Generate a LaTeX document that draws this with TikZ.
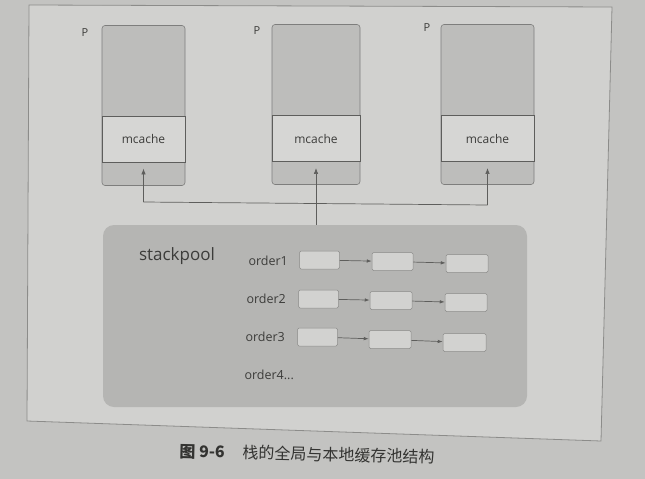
\documentclass[tikz,border=0pt]{standalone}
\usepackage{fontspec}
\setmainfont{Open Sans}
\newfontfamily\cjk{Noto Sans CJK SC}
\usetikzlibrary{arrows.meta}
\definecolor{paper}{HTML}{C3C3C1}
\definecolor{inner}{HTML}{D1D1CF}
\definecolor{frameline}{HTML}{8C8C8A}
\definecolor{boxline}{HTML}{5E5E5C}
\definecolor{pfill}{HTML}{BDBDBB}
\definecolor{mfill}{HTML}{D6D6D4}
\definecolor{poolfill}{HTML}{B5B5B3}
\definecolor{cellfill}{HTML}{D2D2D0}
\definecolor{ink}{HTML}{3C3C3A}
\begin{document}
\begin{tikzpicture}[x=1pt,y=-1pt,
  pbox/.style={draw=boxline!80, fill=pfill, rounded corners=3pt, minimum height=160pt, inner sep=0pt, line width=0.6pt},
  mband/.style={draw=boxline, fill=mfill, minimum height=46pt, inner sep=0pt, line width=0.9pt, font=\fontsize{12}{14}\selectfont, text=ink},
  plabel/.style={font=\fontsize{11}{13}\selectfont, text=ink},
  pool/.style={fill=poolfill, rounded corners=11pt, minimum width=424pt, minimum height=182pt, inner sep=0pt},
  cell/.style={draw=frameline, fill=cellfill, rounded corners=1.5pt, minimum width=40pt, minimum height=18pt, inner sep=0pt, line width=0.5pt},
  olabel/.style={font=\fontsize{12.5}{14}\selectfont, text=ink, anchor=west},
  arr/.style={draw=boxline, line width=0.7pt, -{Latex[length=6pt,width=4.5pt]}},
  carr/.style={draw=boxline, line width=0.7pt, -{Latex[length=5pt,width=3.5pt]}},
  link/.style={draw=boxline, line width=0.7pt}]
\useasboundingbox (0,0) rectangle (645,479);
\fill[paper] (0,0) rectangle (645,479);
\filldraw[fill=inner, draw=frameline, line width=0.8pt] (29,5) -- (612,7) -- (601,441) -- (27,421) -- cycle;

% P boxes
\node[pbox, minimum width=83pt] (p1) at (143.5,105.5) {};
\node[pbox, minimum width=88pt] (p2) at (316,104.5) {};
\node[pbox, minimum width=93pt] (p3) at (487.5,104.5) {};
\node[mband, minimum width=83pt] (m1) at (143.5,139) {mcache};
\node[mband, minimum width=88pt] (m2) at (316,138.5) {mcache};
\node[mband, minimum width=93pt] (m3) at (487.5,138.5) {mcache};
\node[plabel] (l1) at (85,33) {P};
\node[plabel] (l2) at (257,31) {P};
\node[plabel] (l3) at (427,28) {P};

% stackpool
\node[pool] (sp) at (315,316) {};
\node[font=\fontsize{17}{19}\selectfont, text=ink] (spl) at (177,256) {stackpool};
\node[olabel] (o1) at (245,261) {order1};
\node[olabel] (o2) at (243,299) {order2};
\node[olabel] (o3) at (242,337) {order3};
\node[olabel] (o4) at (241,375) {order4...};

\node[cell] (a1) at (319.5,260) {};
\node[cell, minimum width=41pt] (b1) at (392.5,261.5) {};
\node[cell, minimum width=42pt] (c1) at (467,263.5) {};
\node[cell] (a2) at (318.5,299) {};
\node[cell, minimum width=42pt] (b2) at (391,300.5) {};
\node[cell, minimum width=42pt] (c2) at (466,302.5) {};
\node[cell] (a3) at (317.5,337) {};
\node[cell, minimum width=42pt] (b3) at (390,339.5) {};
\node[cell, minimum width=43pt] (c3) at (464.5,342.5) {};
\foreach \r in {1,2,3}{
  \draw[carr] (a\r) -- (b\r);
  \draw[carr] (b\r) -- (c\r);
}

% connectors
\coordinate (j1) at (143.5,202);
\coordinate (j3) at (487.5,205);
\draw[link] (j1) -- (j3);
\draw[arr] (j1) -- ([yshift=-6pt]m1.south);
\draw[arr] (j3) -- ([yshift=-6pt]m3.south);
\draw[arr] (sp.north -| m2.south) -- ([yshift=-6pt]m2.south);

% caption
\node[font=\cjk\fontsize{16}{18}\selectfont, text=ink!85!black, rotate=-1.3] (cap) at (307,454) {\textbf{图 9-6}\hspace{1.1em}栈的全局与本地缓存池结构};
\end{tikzpicture}
\end{document}
